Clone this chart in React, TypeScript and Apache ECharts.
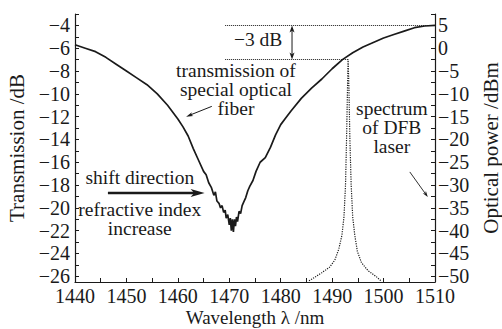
import React, { useEffect, useRef } from "react";
import * as echarts from "echarts";

// Transmission of special optical fiber (wavelength nm, dB)
const wavelengths = [
  1440, 1442, 1444, 1446, 1448, 1450, 1452, 1454, 1456, 1458, 1460, 1461, 1462, 1463, 1464, 1465,
  1465.5, 1466, 1466.5, 1467, 1467.3, 1467.6, 1468, 1468.3, 1468.6, 1468.9, 1469.2, 1469.4, 1469.7,
  1470, 1470.2, 1470.4, 1470.6, 1470.8, 1471, 1471.2, 1471.4, 1471.6, 1471.9, 1472.2, 1472.5, 1472.8,
  1473.2, 1473.6, 1474, 1474.6, 1475.2, 1476, 1477, 1478, 1479, 1480, 1481, 1482, 1484, 1486, 1488,
  1490, 1492, 1494, 1496, 1498, 1500, 1502, 1504, 1506, 1508, 1510,
];
const transmission = [
  -5.7, -6.0, -6.3, -6.8, -7.4, -8.0, -8.6, -9.2, -10.0, -11.0, -12.2, -12.9, -13.7, -14.8, -15.8, -16.8,
  -17.1, -17.8, -18.2, -18.9, -18.6, -19.4, -19.6, -20.0, -19.8, -20.4, -20.2, -20.9, -20.6,
  -21.5, -20.9, -22.0, -21.0, -22.1, -21.0, -21.6, -20.8, -21.2, -20.3, -20.5, -19.8, -19.5,
  -19.1, -18.5, -18.1, -17.6, -16.8, -16.0, -15.6, -14.7, -13.6, -12.7, -12.1, -11.5, -10.4, -9.5, -8.7,
  -7.8, -7.0, -6.4, -5.9, -5.5, -5.1, -4.8, -4.5, -4.2, -4.05, -4.0,
];

// Spectrum of DFB laser (wavelength nm, dBm)
const dfbWavelengths = [
  1485.5, 1486.5, 1488, 1489.5, 1490.5, 1491.3, 1491.9, 1492.3, 1492.6, 1492.8, 1493.0, 1493.1,
  1493.25, 1493.45, 1493.7, 1494.0, 1494.4, 1494.9, 1495.7, 1497, 1498.5, 1499.5,
];
const dfbPower = [
  -51, -50.3, -49.2, -48, -46.5, -44, -41, -37, -30, -20, -8, -2.4,
  -8, -20, -30, -37, -41, -44.5, -47, -48.8, -50, -51,
];

// Axis ticks
const xTickLabels = [1440, 1450, 1460, 1470, 1480, 1490, 1500, 1510];
const xMinorTicks = [1440, 1445, 1450, 1455, 1460, 1465, 1470, 1475, 1480, 1485, 1490, 1495, 1500, 1505, 1510];
const leftTickLabels = [-26, -24, -22, -20, -18, -16, -14, -12, -10, -8, -6, -4];
const leftTicks = [-26, -25, -24, -23, -22, -21, -20, -19, -18, -17, -16, -15, -14, -13, -12, -11, -10, -9, -8, -7, -6, -5, -4, -3];
const rightTickLabels = [-50, -45, -40, -35, -30, -25, -20, -15, -10, -5, 0, 5];
const rightTicks = [-50, -47.5, -45, -42.5, -40, -37.5, -35, -32.5, -30, -27.5, -25, -22.5, -20, -17.5, -15, -12.5, -10, -7.5, -5, -2.5, 0, 2.5, 5, 7.5];

// Annotation levels (left axis, dB)
const peakLevel = -4;
const minus3Level = -7;
const minus3Start = 1469.2;
const dfbPeakWl = 1493.1;
const arrow3dBWl = 1482.2;

const FONT = '"Liberation Serif", "Times New Roman", serif';
const INK = "#1a1a1a";

const fmt = (v: number) => (v < 0 ? "\u2212" + Math.abs(v) : String(v));

type Pt = number[];

function arrowGraphic(p0: Pt, p1: Pt, width: number, headLen: number, headW: number, both = false) {
  const dx = p1[0] - p0[0];
  const dy = p1[1] - p0[1];
  const len = Math.hypot(dx, dy) || 1;
  const ux = dx / len;
  const uy = dy / len;
  const nx = -uy;
  const ny = ux;
  const head = (tip: Pt, sx: number, sy: number) => ({
    type: "polygon",
    silent: true,
    shape: {
      points: [
        [tip[0], tip[1]],
        [tip[0] - sx * headLen + nx * headW / 2, tip[1] - sy * headLen + ny * headW / 2],
        [tip[0] - sx * headLen * 0.75, tip[1] - sy * headLen * 0.75],
        [tip[0] - sx * headLen - nx * headW / 2, tip[1] - sy * headLen - ny * headW / 2],
      ],
    },
    style: { fill: INK },
  });
  const a = both ? [p0[0] + ux * headLen * 0.7, p0[1] + uy * headLen * 0.7] : p0;
  const b = [p1[0] - ux * headLen * 0.7, p1[1] - uy * headLen * 0.7];
  const children: any[] = [
    { type: "line", silent: true, shape: { x1: a[0], y1: a[1], x2: b[0], y2: b[1] }, style: { stroke: INK, lineWidth: width } },
    head(p1, ux, uy),
  ];
  if (both) children.push(head(p0, -ux, -uy));
  return { type: "group", children };
}

export default function App() {
  const ref = useRef<HTMLDivElement>(null);

  useEffect(() => {
    if (!ref.current) return;
    const chart = echarts.init(ref.current, null, { renderer: "svg" });
    const axisLine = { show: true, onZero: false, lineStyle: { color: INK, width: 1.2 } };

    chart.setOption({
      animation: false,
      grid: { left: 75, right: 67, top: 14, bottom: 47, containLabel: false, outerBoundsMode: "none" },
      xAxis: {
        type: "value",
        min: 1440,
        max: 1510,
        interval: 10,
        axisLine,
        axisTick: { show: true, inside: true, length: 4, customValues: xMinorTicks, lineStyle: { color: INK } },
        axisLabel: { customValues: xTickLabels, formatter: (v: number) => String(v), color: INK, fontFamily: FONT, fontSize: 20, lineHeight: 20, margin: 4 },
        splitLine: { show: false },
        name: "Wavelength \u03bb /nm",
        nameLocation: "middle",
        nameGap: 26,
        nameMoveOverlap: false,
        nameTextStyle: { color: INK, fontFamily: FONT, fontSize: 19, lineHeight: 19 },
      },
      yAxis: [
        {
          type: "value",
          min: -26.5,
          max: -3,
          position: "left",
          axisLine,
          axisTick: { show: true, inside: true, length: 4, customValues: leftTicks, lineStyle: { color: INK } },
          axisLabel: { customValues: leftTickLabels, formatter: fmt, color: INK, fontFamily: FONT, fontSize: 20, margin: 5 },
          splitLine: { show: false },
          name: "Transmission /dB",
          nameLocation: "middle",
          nameGap: 43,
          nameRotate: 90,
          nameTextStyle: { color: INK, fontFamily: FONT, fontSize: 21 },
        },
        {
          type: "value",
          min: -51.25,
          max: 7.5,
          position: "right",
          axisLine,
          axisTick: { show: true, inside: true, length: 4, customValues: rightTicks, lineStyle: { color: INK } },
          axisLabel: { customValues: rightTickLabels, formatter: fmt, color: INK, fontFamily: FONT, fontSize: 20, margin: 3 },
          splitLine: { show: false },
          name: "Optical power /dBm",
          nameLocation: "middle",
          nameGap: 40,
          nameRotate: 90,
          nameTextStyle: { color: INK, fontFamily: FONT, fontSize: 21 },
        },
      ],
      series: [
        {
          type: "line",
          yAxisIndex: 0,
          data: wavelengths.map((w, i) => [w, transmission[i]]),
          showSymbol: false,
          symbol: "none",
          lineStyle: { color: INK, width: 1.7 },
          markLine: {
            silent: true,
            symbol: ["none", "none"],
            label: { show: false },
            lineStyle: { color: INK, type: "dotted", width: 1 },
            data: [
              [{ coord: [minus3Start, peakLevel] }, { coord: [1510, peakLevel] }],
              [{ coord: [minus3Start, minus3Level] }, { coord: [dfbPeakWl, minus3Level] }],
            ],
          },
        },
        {
          type: "line",
          yAxisIndex: 1,
          data: dfbWavelengths.map((w, i) => [w, dfbPower[i]]),
          showSymbol: false,
          symbol: "none",
          lineStyle: { color: INK, width: 1.2, type: "dotted" },
        },
      ],
    });

    const px = (at: Pt) => chart.convertToPixel({ xAxisIndex: 0, yAxisIndex: 0 }, at) as number[];

    const notes = [
      { text: "\u22123 dB", at: [1475.6, -5.23] },
      { text: "transmission of\nspecial optical\nfiber", at: [1471.3, -9.63] },
      { text: "spectrum\nof DFB\nlaser", at: [1501.6, -12.98] },
      { text: "shift direction", at: [1452.6, -17.38] },
      { text: "refractive index\nincrease", at: [1452.6, -20.99] },
    ];
    const arrows = [
      { from: [arrow3dBWl, peakLevel], to: [arrow3dBWl, minus3Level], width: 1, headLen: 7, headW: 5, both: true },
      { from: [1446.4, -18.7], to: [1465.2, -18.7], width: 2.4, headLen: 14, headW: 8, both: false },
      { from: [1466.6, -11.1], to: [1461.6, -12.0], width: 1, headLen: 7, headW: 4, both: false },
      { from: [1505.1, -16.85], to: [1508.6, -19.05], width: 0.9, headLen: 6, headW: 4, both: false },
    ];

    chart.setOption({
      graphic: [
        ...notes.map((n) => {
          const p = px(n.at);
          return {
            type: "text",
            x: p[0],
            y: p[1],
            silent: true,
            style: {
              text: n.text,
              align: "center",
              verticalAlign: "middle",
              fontFamily: FONT,
              fontSize: 19.5,
              lineHeight: 19,
              fill: INK,
            },
          };
        }),
        ...arrows.map((a) => arrowGraphic(px(a.from), px(a.to), a.width, a.headLen, a.headW, a.both)),
      ],
    });

    return () => chart.dispose();
  }, []);

  return <div ref={ref} style={{ position: "absolute", left: 0, top: 0, width: 502, height: 329, background: "#fff" }} />;
}
